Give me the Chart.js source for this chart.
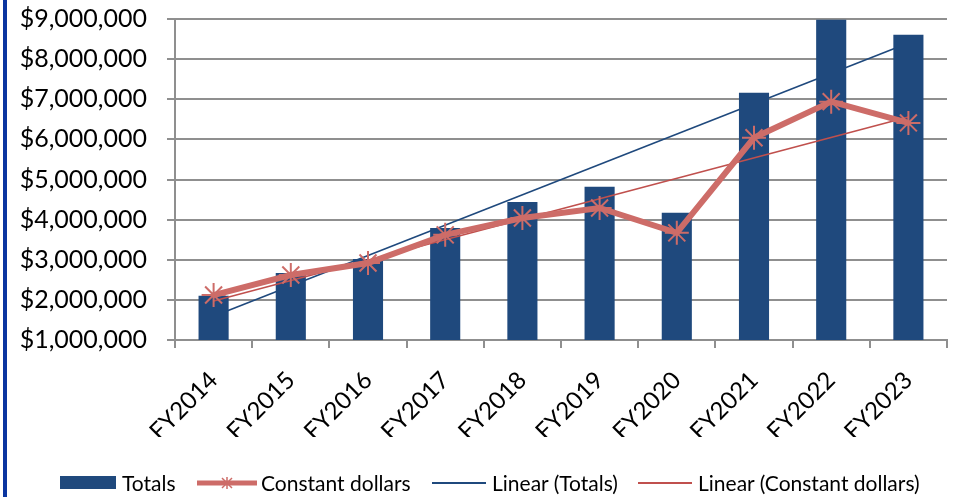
<!DOCTYPE html>
<html>
<head>
<meta charset="utf-8">
<script src="https://cdn.jsdelivr.net/npm/chart.js@4.4.1/dist/chart.umd.min.js"></script>
<style>
  html, body { margin: 0; padding: 0; background: #fff; }
  #wrap { position: relative; width: 961px; height: 497px; overflow: hidden; }
  #edge { position: absolute; left: 3px; top: 0; width: 4px; height: 497px; background: #0a35a0; }
  #legend { position: absolute; left: 0; top: 471px; height: 24px; font-family: Lato, sans-serif; font-size: 21px; color: #000; }
  .item { position: absolute; top: 0; height: 24px; line-height: 24px; white-space: nowrap; }
  .sw { position: absolute; top: 0; }
</style>
</head>
<body>
<div id="wrap">
  <canvas id="chart" width="961" height="497"></canvas>
  <div id="edge"></div>
  <div id="legend"></div>
</div>
<script>
// categories and values
const years = ['FY2014', 'FY2015', 'FY2016', 'FY2017', 'FY2018', 'FY2019', 'FY2020', 'FY2021', 'FY2022', 'FY2023'];
const totals = [2100000, 2670000, 3020000, 3790000, 4440000, 4820000, 4170000, 7160000, 8980000, 8610000];
const constantDollars = [2120000, 2620000, 2920000, 3620000, 4040000, 4290000, 3670000, 6040000, 6940000, 6410000];
// trendline end points (first and last year)
const trendTotals = [1590000, 8400000];
const trendConstant = [1970000, 6560000];
const yTicks = { min: 1000000, max: 9000000, step: 1000000 };

const BLUE = '#1f497d';
const ROSE = '#cd6c68';
const RED = '#c0504d';
const GRID = '#8f8f8f';

const endsOnly = (pair) => years.map((y, i) => i === 0 ? pair[0] : (i === years.length - 1 ? pair[1] : null));

const fmt = v => '$' + Number(v).toLocaleString('en-US');

const ctx = document.getElementById('chart').getContext('2d');
new Chart(ctx, {
    type: 'bar',
    data: {
        labels: years,
        datasets: [
            {
                type: 'bar',
                label: 'Totals',
                data: totals,
                backgroundColor: BLUE,
                categoryPercentage: 1,
                barPercentage: 0.39,
                order: 3
            },
            {
                type: 'line',
                label: 'Linear (Totals)',
                data: endsOnly(trendTotals),
                borderColor: BLUE,
                borderWidth: 1.6,
                pointRadius: 0,
                spanGaps: true,
                order: 4
            },
            {
                type: 'line',
                label: 'Linear (Constant dollars)',
                data: endsOnly(trendConstant),
                borderColor: RED,
                borderWidth: 1.6,
                pointRadius: 0,
                spanGaps: true,
                order: 2
            },
            {
                type: 'line',
                label: 'Constant dollars',
                data: constantDollars,
                borderColor: ROSE,
                borderWidth: 6,
                pointStyle: 'star',
                pointRadius: 12,
                pointBorderColor: ROSE,
                pointBorderWidth: 2,
                pointBackgroundColor: ROSE,
                order: 1
            }
        ]
    },
    options: {
        responsive: false,
        animation: false,
        layout: { padding: { left: 0, right: 11, top: 19, bottom: 60 } },
        plugins: {
            legend: { display: false },
            tooltip: { enabled: false }
        },
        scales: {
            x: {
                offset: true,
                grid: { offset: true, drawOnChartArea: false, color: GRID, lineWidth: 2, tickLength: 8 },
                border: { color: GRID, width: 2 },
                ticks: {
                    minRotation: 45, maxRotation: 45, padding: 18,
                    color: '#000', font: { family: 'Lato', size: 24 }
                },
                afterFit: scale => { scale.height = 97; scale.paddingLeft = 0; scale.paddingRight = 0; }
            },
            y: {
                min: yTicks.min,
                max: yTicks.max,
                grid: { color: GRID, lineWidth: 2, tickLength: 8 },
                border: { color: GRID, width: 2 },
                ticks: {
                    stepSize: yTicks.step,
                    padding: 20,
                    color: '#000',
                    font: { family: 'Lato', size: 25 },
                    callback: v => fmt(v)
                },
                afterFit: scale => { scale.width = 175; scale.paddingTop = 0; scale.paddingBottom = 0; }
            }
        }
    }
});

// legend built by hand so the swatches match the original
const legendItems = [
    { text: 'Totals', left: 60, kind: 'box', color: BLUE },
    { text: 'Constant dollars', left: 197, kind: 'marker', color: ROSE },
    { text: 'Linear (Totals)', left: 432, kind: 'thin', color: BLUE },
    { text: 'Linear (Constant dollars)', left: 638, kind: 'thin', color: RED }
];
const legend = document.getElementById('legend');
legendItems.forEach(it => {
    const el = document.createElement('div');
    el.className = 'item';
    el.style.left = it.left + 'px';
    let sw;
    if (it.kind === 'box') {
        sw = `<svg class="sw" width="56" height="24"><rect x="0" y="5" width="56" height="13" fill="${it.color}"/></svg>`;
    } else if (it.kind === 'marker') {
        sw = `<svg class="sw" width="60" height="24"><line x1="0" y1="12" x2="60" y2="12" stroke="${it.color}" stroke-width="5" stroke-linecap="round"/>` +
             `<g stroke="${it.color}" stroke-width="1.5"><line x1="25" y1="7" x2="35" y2="17"/><line x1="35" y1="7" x2="25" y2="17"/><line x1="30" y1="6" x2="30" y2="18"/></g></svg>`;
    } else {
        sw = `<svg class="sw" width="54" height="24"><line x1="0" y1="12" x2="54" y2="12" stroke="${it.color}" stroke-width="2"/></svg>`;
    }
    const pad = it.kind === 'marker' ? 64 : (it.kind === 'box' ? 62 : 60);
    el.innerHTML = sw + `<span style="margin-left:${pad}px">${it.text}</span>`;
    legend.appendChild(el);
});
</script>
</body>
</html>
